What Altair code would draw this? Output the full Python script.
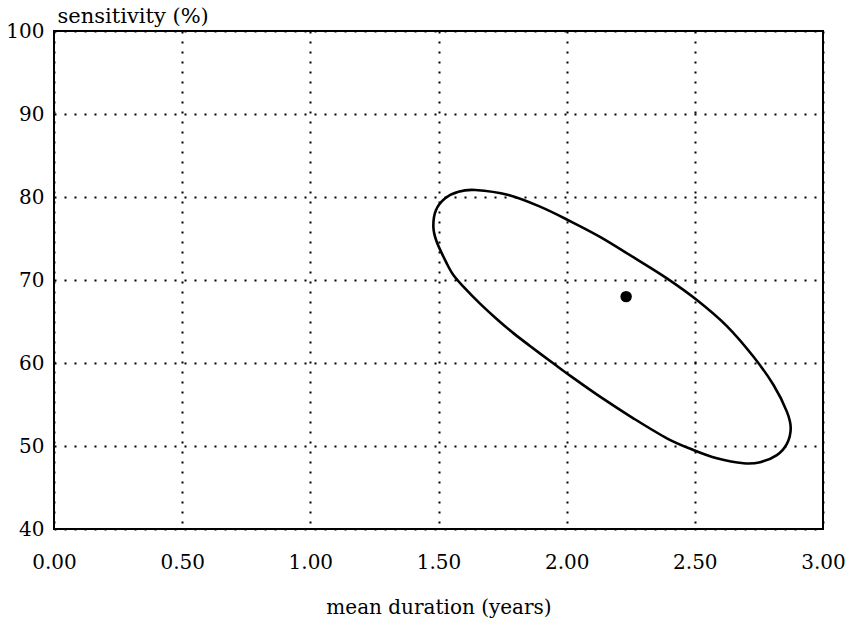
import altair as alt
import pandas as pd

# Confidence region boundary (mean duration in years, sensitivity in %), traced clockwise
ellipse_x = [1.480, 1.490, 1.526, 1.578, 1.643, 1.773, 1.896, 2.013, 2.130, 2.260,
             2.391, 2.508, 2.625, 2.729, 2.807, 2.859, 2.874, 2.859, 2.820, 2.755,
             2.690, 2.586, 2.494, 2.391, 2.260, 2.130, 2.000, 1.950, 1.857, 1.792,
             1.727, 1.662, 1.597, 1.558, 1.532, 1.493]
ellipse_y = [76.40, 78.40, 79.84, 80.64, 80.84, 80.24, 78.84, 77.10, 75.20, 72.75,
             70.20, 67.59, 64.45, 60.75, 57.35, 54.14, 52.13, 50.25, 48.90, 48.05,
             47.92, 48.52, 49.52, 50.93, 53.34, 55.94, 58.76, 59.90, 62.05, 63.60,
             65.30, 67.15, 69.20, 70.60, 72.01, 74.60]

# Point estimate
est_x = [2.232]
est_y = [68.0]

x_ticks = [0.0, 0.5, 1.0, 1.5, 2.0, 2.5, 3.0]
y_ticks = [40, 50, 60, 70, 80, 90, 100]

FONT = "DejaVu Serif"
FS = 20

ellipse_df = pd.DataFrame({"x": ellipse_x, "y": ellipse_y, "i": range(len(ellipse_x))})
est_df = pd.DataFrame({"x": est_x, "y": est_y})

x_enc = alt.X(
    "x:Q",
    scale=alt.Scale(domain=[0, 3], nice=False, zero=False),
    axis=alt.Axis(
        values=x_ticks, format=".2f", title="mean duration (years)",
        grid=True, gridColor="black", gridDash=[2, 8], gridWidth=2,
        ticks=False, domain=False,
        labelFont=FONT, labelFontSize=FS, labelColor="black",
        labelPadding=39, labelBaseline="alphabetic", labelFlush=False,
        titleFont=FONT, titleFontSize=FS, titleFontWeight="normal", titleColor="black",
        titleY=84, titleBaseline="alphabetic",
    ),
)
y_enc = alt.Y(
    "y:Q",
    scale=alt.Scale(domain=[40, 100], nice=False, zero=False),
    axis=alt.Axis(
        values=y_ticks, title="sensitivity (%)",
        grid=True, gridColor="black", gridDash=[2, 8], gridWidth=2,
        ticks=False, domain=False,
        labelFont=FONT, labelFontSize=FS, labelColor="black",
        labelPadding=10, labelBaseline="middle", labelFlush=False,
        titleFont=FONT, titleFontSize=21, titleFontWeight="normal", titleColor="black",
        titleAngle=0, titleAlign="left", titleBaseline="alphabetic",
        titleX=3, titleY=-9,
    ),
)

ellipse = alt.Chart(ellipse_df).mark_line(
    color="black", strokeWidth=2.6, interpolate="cardinal-closed"
).encode(x=x_enc, y=y_enc, order="i:Q")

estimate = alt.Chart(est_df).mark_point(
    filled=True, color="black", opacity=1, size=130, shape="circle"
).encode(x="x:Q", y="y:Q")

chart = (
    alt.layer(ellipse, estimate)
    .properties(
        width=769, height=498,
        autosize=alt.AutoSizeParams(type="none"),
        padding={"left": 54, "top": 31, "right": 27, "bottom": 100},
        background="white",
    )
    .configure_view(stroke="black", strokeWidth=2)
)

chart.save("out.html", embed_options={"renderer": "svg", "actions": False})
